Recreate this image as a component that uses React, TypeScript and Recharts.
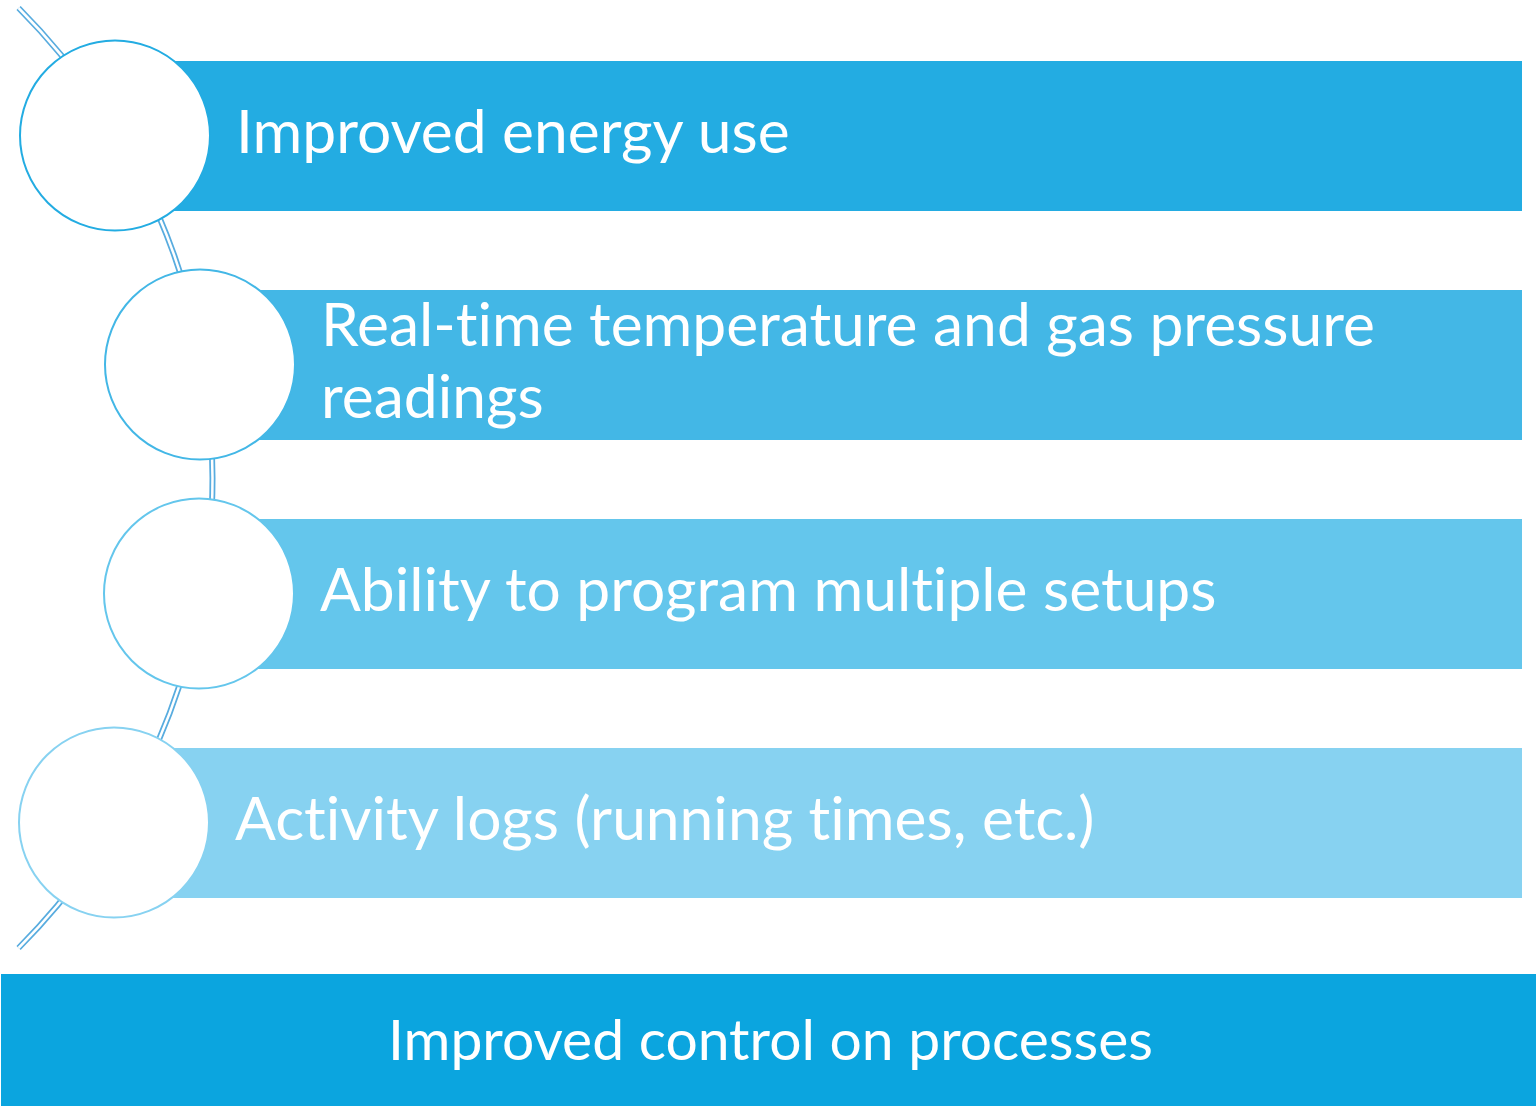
import React from "react"
import { Bar, Cell, ComposedChart, LabelList, Scatter, XAxis, YAxis } from "recharts"

// Steps of the diagram, top to bottom
const STEPS = [
  "Improved energy use",
  "Real-time temperature and gas pressure readings",
  "Ability to program multiple setups",
  "Activity logs (running times, etc.)",
]
const STEP_COLORS = ["#23ACE2", "#43B7E6", "#64C6EC", "#87D2F1"]
const RESULT = "Improved control on processes"
const RESULT_COLOR = "#0BA5DF"

const W = 1536
const H = 1106
const CHART_H = 960
const MARGIN = { top: 21, right: 0, bottom: 23, left: 0 }
const BAR_END = 1522
const BAR_SIZE = 150
const CIRCLE_R = 95
const FONT = "Lato, 'Open Sans', sans-serif"
const FONT_SIZE = 60.5
const RESULT_FONT_SIZE = 57
const LINE_H = 72

// the connecting arc is part of a big circle whose centre sits off to the left
const ARC_CX = -454
const ARC_CY = 478
const ARC_R = 666.5

const bandH = (CHART_H - MARGIN.top - MARGIN.bottom) / STEPS.length
const arcX = (y: number) => ARC_CX + Math.sqrt(ARC_R * ARC_R - (y - ARC_CY) ** 2)
const circleX = (i: number) => Math.round(arcX(MARGIN.top + bandH * (i + 0.5)) - 3)

const data = STEPS.map((label, i) => ({
  label,
  cx: circleX(i),
  range: [circleX(i), BAR_END],
}))

function wrap(text: string, maxWidth: number): string[] {
  const ctx = document.createElement("canvas").getContext("2d")
  if (!ctx) return [text]
  ctx.font = `${FONT_SIZE}px ${FONT}`
  const lines: string[] = []
  let cur = ""
  for (const w of text.split(" ")) {
    const next = cur ? `${cur} ${w}` : w
    if (cur && ctx.measureText(next).width > maxWidth) {
      lines.push(cur)
      cur = w
    } else cur = next
  }
  if (cur) lines.push(cur)
  return lines
}

function StepLabel(props: any) {
  const { y, height, index, value } = props
  const tx = circleX(index) + 121
  const lines = wrap(String(value), BAR_END - tx - 40)
  const mid = Number(y) + Number(height) / 2
  const first = mid + 17 - ((lines.length - 1) * LINE_H) / 2
  return (
    <text
      x={tx}
      y={first}
      fill="#ffffff"
      fontSize={FONT_SIZE}
      fontFamily={FONT}
      style={{ fontVariantLigatures: "none" }}
    >
      {lines.map((l, k) => (
        <tspan key={k} x={tx} y={first + k * LINE_H}>
          {l}
        </tspan>
      ))}
    </text>
  )
}

function StepCircle(props: any) {
  const { cx, cy, index } = props
  return <circle cx={cx} cy={cy} r={CIRCLE_R} fill="#ffffff" stroke={STEP_COLORS[index]} strokeWidth={2} />
}

export default function App() {
  const y0 = 8
  const y1 = 948
  const arcPath = `M ${arcX(y0)} ${y0} A ${ARC_R} ${ARC_R} 0 0 1 ${arcX(y1)} ${y1}`
  return (
    <div style={{ position: "absolute", left: 0, top: 0, width: W, height: H, background: "#ffffff", overflow: "hidden" }}>
      <svg width={W} height={CHART_H} style={{ position: "absolute", left: 0, top: 0 }}>
        <path d={arcPath} fill="none" stroke="#58ACDF" strokeWidth={6} />
        <path d={arcPath} fill="none" stroke="#ffffff" strokeWidth={2.5} />
      </svg>
      <div style={{ position: "absolute", left: 0, top: 0 }}>
        <ComposedChart width={W} height={CHART_H} data={data} layout="vertical" margin={MARGIN}>
          <XAxis type="number" domain={[0, W]} hide allowDataOverflow />
          <YAxis type="category" dataKey="label" hide />
          <Bar dataKey="range" barSize={BAR_SIZE} isAnimationActive={false}>
            {data.map((d, i) => (
              <Cell key={d.label} fill={STEP_COLORS[i]} />
            ))}
            <LabelList dataKey="label" content={StepLabel} />
          </Bar>
          <Scatter dataKey="cx" shape={StepCircle} isAnimationActive={false} />
        </ComposedChart>
      </div>
      <div
        style={{
          position: "absolute",
          left: 1,
          top: 974,
          width: W - 1,
          height: H - 974,
          background: RESULT_COLOR,
          color: "#ffffff",
          fontFamily: FONT,
          fontSize: RESULT_FONT_SIZE,
          fontVariantLigatures: "none",
          display: "flex",
          alignItems: "center",
          justifyContent: "center",
          paddingBottom: 4,
          paddingLeft: 4,
          boxSizing: "border-box",
        }}
      >
        {RESULT}
      </div>
    </div>
  )
}
